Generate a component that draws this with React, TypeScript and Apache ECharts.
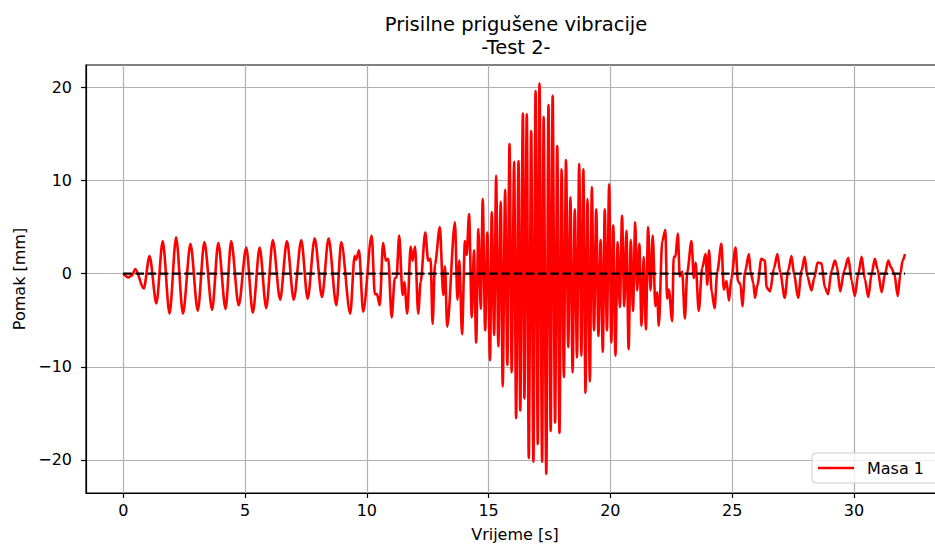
import React, { useEffect, useRef } from "react";
import * as echarts from "echarts";

const chartTitle = "Prisilne prigušene vibracije\n-Test 2-";
const xName = "Vrijeme [s]";
const yName = "Pomak [mm]";
const seriesName = "Masa 1";
const xTicks = [0, 5, 10, 15, 20, 25, 30];
const yTicks = [-20, -10, 0, 10, 20];

const time = [
  0, 0.2, 0.35, 0.5, 0.84, 1.08, 1.36, 1.62, 1.9, 2.17, 2.45, 2.76, 3.06, 3.33, 3.65, 3.9, 4.2, 4.43,
  4.74, 5.05, 5.32, 5.6, 5.87, 6.14, 6.44, 6.72, 7.0, 7.31, 7.57, 7.86, 8.16, 8.43, 8.75, 8.95, 9.32,
  9.5, 9.56, 9.68, 9.85, 10.2, 10.33, 10.42, 10.53, 10.67, 10.78, 10.88, 11.02, 11.15, 11.22, 11.33,
  11.47, 11.54, 11.66, 11.8, 11.88, 11.98, 12.11, 12.21, 12.4, 12.52, 12.62, 12.7, 12.8, 13.0, 13.14,
  13.21, 13.3, 13.62, 13.72, 13.8, 13.91, 14.03, 14.1, 14.2, 14.31, 14.4, 14.49, 14.58, 14.68, 14.76,
  14.86, 14.95, 15.06, 15.13, 15.23, 15.31, 15.4, 15.5, 15.58, 15.68, 15.77, 15.86, 15.95, 16.05,
  16.13, 16.23, 16.3, 16.41, 16.47, 16.57, 16.65, 16.75, 16.84, 16.93, 17.02, 17.09, 17.2, 17.26,
  17.37, 17.46, 17.55, 17.63, 17.73, 17.82, 17.91, 18.0, 18.09, 18.18, 18.27, 18.36, 18.45, 18.54,
  18.63, 18.72, 18.81, 18.89, 18.98, 19.06, 19.16, 19.24, 19.33, 19.42, 19.51, 19.6, 19.69, 19.77,
  19.86, 19.95, 20.04, 20.12, 20.21, 20.3, 20.39, 20.48, 20.57, 20.66, 20.75, 20.84, 20.93, 21.02,
  21.1, 21.19, 21.28, 21.37, 21.46, 21.55, 21.65, 21.74, 21.85, 21.92, 21.99, 22.13, 22.26, 22.33,
  22.4, 22.54, 22.6, 22.67, 22.77, 22.85, 22.95, 23.06, 23.16, 23.33, 23.43, 23.5, 23.63, 23.77,
  23.91, 23.98, 24.05, 24.16, 24.28, 24.39, 24.56, 24.66, 24.77, 24.87, 24.97, 25.14, 25.24, 25.35,
  25.42, 25.53, 25.69, 25.76, 25.87, 25.94, 26.04, 26.2, 26.34, 26.42, 26.56, 26.72, 26.86, 26.97,
  27.16, 27.3, 27.44, 27.54, 27.71, 27.85, 27.98, 28.09, 28.26, 28.37, 28.51, 28.67, 28.81, 28.94,
  29.08, 29.22, 29.3, 29.44, 29.6, 29.77, 29.91, 30.04, 30.18, 30.32, 30.45, 30.59, 30.73, 30.86,
  30.97, 31.14, 31.28, 31.41, 31.52, 31.66, 31.8, 31.91, 32.0, 32.1,
];

const pomak = [
  0, -0.4, -0.2, 0.5, -1.6, 1.9, -3.2, 3.5, -4.3, 3.9, -4.3, 3.2, -4.0, 3.4, -3.9, 3.3, -3.8, 3.5,
  -3.4, 2.8, -4.2, 2.8, -3.7, 3.6, -2.8, 3.5, -2.8, 3.6, -2.7, 3.8, -2.5, 3.8, -3.4, 3.4, -4.3,
  1.9, 1.5, 2.5, -4.1, 4.1, -2.2, -2.2, -3.4, 3.3, 1.4, 1.6, -4.7, -0.5, -0.4, 4.1,
  -2.3, -0.9, -4.3, 2.9, 1.4, 2.9, -4.3, -0.9, 4.4, 1.4, 1.6, -5.4, 1.0, 5.0, -2.3,
  0.8, -5.7, 5.5, -2.8, 1.4, -6.5, 3.5, 2.0, 6.4, -4.7, 2.5, -7.4, 4.8, -3.8, 8.0,
  -6.1, 4.4, -9.3, 6.6, -6.6, 10.5, -7.8, 7.7, -12.1, 9.0, -9.8, 13.9, -10.6, 12.0,
  -15.5, 12.1, -14.7, 17.2, -13.4, 17.1, -19.8, 15.3, -20.2, 19.6, -18.3, 20.4, -20.2, 16.8,
  -21.5, 18.1, -16.9, 19.1, -16.0, 13.7, -17.1, 11.2, -11.1, 12.2, -7.9, 8.2, -10.6, 6.9,
  -9.0, 11.8, -8.8, 11.2, -12.8, 8.0, -11.6, 9.3, -6.1, 6.9, -6.7, 3.6, -8.4, 6.9,
  -6.1, 9.6, -7.4, 5.2, -8.8, 3.4, -3.6, 6.2, -3.5, 4.6, -8.1, 3.6, -4.0, 5.5,
  -1.8, 3.2, -5.6, 1.8, -6.0, 5.0, -1.8, 4.1, -3.5, -2.0, -5.6, 3.5, 4.7, -2.7,
  -1.7, -5.1, 1.8, 1.8, 4.3, -0.3, 0.2, -4.8, 0.2, 3.5, -0.5, 1.2, -4.0, 0.6,
  2.1, -1.2, 2.5, -1.9, -3.7, 0.2, 3.2, -1.7, -0.8, -2.9, -0.5, 2.8, -0.8, -1.2,
  -3.5, 0.2, 2.1, 0.2, -1.0, -2.6, -1.2, 1.6, 1.4, -1.5, -1.9, 0.6, 2.1, 0.2,
  -2.6, 0.3, 1.9, 0, -2.6, 0.3, 1.8, -0.3, -1.8, -0.5, 1.2, 1.1, -1.5, -2.2,
  0.3, 1.4, 0.8, -1.9, 0.3, 1.7, -0.8, -2.4, 0, 1.8, -0.6, -2.5, 0, 1.6,
  0.5, -2.0, 0, 1.4, 0.7, 0, -2.4, 0, 1.4, 2.1,
];

const zeroTime = [0, 32.1];
const zeroValue = [0, 0];

const FONT = "DejaVu Sans";

export default function App() {
  const ref = useRef<HTMLDivElement>(null);
  useEffect(() => {
    document.body.style.margin = "0";
    if (!ref.current) return;
    const chart = echarts.init(ref.current, undefined, { renderer: "svg" });
    const minus = (v: number) => (v < 0 ? "\u2212" + Math.abs(v) : String(v));
    chart.setOption({
      animation: false,
      backgroundColor: "#ffffff",
      title: {
        text: chartTitle,
        left: 511,
        top: 8,
        textAlign: "center",
        textStyle: {
          fontFamily: FONT,
          fontSize: 19.5,
          fontWeight: "normal",
          color: "#000",
          lineHeight: 23,
        },
      },
      grid: {
        left: 86,
        top: 65,
        width: 858,
        height: 428,
        show: true,
        borderColor: "#000",
        borderWidth: 1.2,
        backgroundColor: "transparent",
        outerBoundsMode: "none",
        containLabel: false,
      },
      legend: {
        left: 812,
        top: 453,
        data: [{ name: seriesName, icon: "rect" }],
        itemWidth: 36,
        itemHeight: 2.3,
        padding: [7, 26, 7, 6],
        backgroundColor: "rgba(255,255,255,0.8)",
        borderColor: "#cccccc",
        borderWidth: 1,
        borderRadius: 4,
        textStyle: { fontFamily: FONT, fontSize: 16, color: "#000", padding: [0, 0, 0, 8] },
      },
      xAxis: {
        type: "value",
        min: -1.53,
        max: 33.7,
        name: xName,
        nameLocation: "middle",
        nameGap: 33,
        nameTextStyle: { fontFamily: FONT, fontSize: 16, color: "#000" },
        axisLine: { show: true, onZero: false, lineStyle: { color: "#000", width: 1.2 } },
        axisTick: { show: true, customValues: xTicks, length: 5, lineStyle: { color: "#000", width: 1.2 } },
        axisLabel: { customValues: xTicks, margin: 9, fontFamily: FONT, fontSize: 16, color: "#000", formatter: minus },
        splitLine: { show: true, lineStyle: { color: "#b0b0b0", width: 1.2 } },
      },
      yAxis: {
        type: "value",
        min: -23.55,
        max: 22.4,
        name: yName,
        nameLocation: "middle",
        nameRotate: 90,
        nameGap: 58,
        nameTextStyle: { fontFamily: FONT, fontSize: 16, color: "#000" },
        axisLine: { show: true, onZero: false, lineStyle: { color: "#000", width: 1.2 } },
        axisTick: { show: true, customValues: yTicks, length: 5, lineStyle: { color: "#000", width: 1.2 } },
        axisLabel: { customValues: yTicks, margin: 14, fontFamily: FONT, fontSize: 16, color: "#000", formatter: minus },
        splitLine: { show: true, lineStyle: { color: "#b0b0b0", width: 1.2 } },
      },
      series: [
        {
          name: seriesName,
          type: "line",
          data: time.map((t, i) => [t, pomak[i]]),
          showSymbol: false,
          smooth: 0.3,
          smoothMonotone: "x",
          color: "#ff0000",
          lineStyle: { color: "#ff0000", width: 2.6 },
        },
        {
          name: "nula",
          type: "line",
          data: zeroTime.map((t, i) => [t, zeroValue[i]]),
          showSymbol: false,
          color: "#000",
          lineStyle: { color: "#000", width: 2.2, type: [8.5, 3.7] },
        },
      ],
    });
    return () => chart.dispose();
  }, []);
  return <div ref={ref} style={{ width: 935, height: 546, overflow: "hidden" }} />;
}
